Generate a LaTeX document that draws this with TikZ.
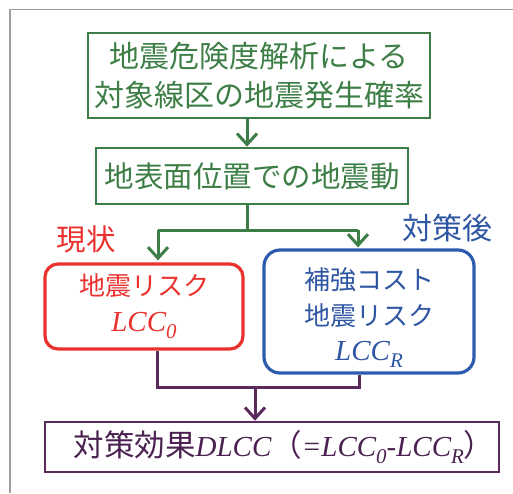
\documentclass[tikz,border=0pt]{standalone}
\usepackage{fontspec}
\setmainfont{Liberation Serif}
\newfontfamily\jp{Noto Sans CJK JP}
\newfontfamily\tnr{Liberation Serif}
\usetikzlibrary{arrows.meta}
\definecolor{cgreen}{HTML}{3D7E46}
\definecolor{cred}{HTML}{EA312D}
\definecolor{cblue}{HTML}{2D5CAE}
\definecolor{cbluetext}{HTML}{2F56A3}
\definecolor{cpurple}{HTML}{5A2A5C}
\definecolor{cpurpletext}{HTML}{4A2150}
\definecolor{cframe}{HTML}{9E9E9E}
\newcommand{\lcc}[1]{{\tnr\itshape LCC\raisebox{-0.23em}{\scalebox{0.72}{#1}}}}
\begin{document}
\begin{tikzpicture}[x=1pt,y=-1pt,
  gbox/.style={draw=cgreen, line width=2.6pt, text=cgreen, inner sep=0pt, align=center},
  rbox/.style={draw=cred, line width=3.2pt, rounded corners=13pt, text=cred, inner sep=0pt, align=center},
  bbox/.style={draw=cblue, line width=3.2pt, rounded corners=16pt, text=cbluetext, inner sep=0pt, align=center},
  pbox/.style={draw=cpurple, line width=2.6pt, text=cpurpletext, inner sep=0pt, align=center},
  garr/.style={draw=cgreen, line width=3pt, -{Straight Barb[length=11pt,width=20pt]}},
  gline/.style={draw=cgreen, line width=3pt},
  parr/.style={draw=cpurple, line width=3pt, -{Straight Barb[length=11pt,width=20pt]}},
  pline/.style={draw=cpurple, line width=3pt},
  lbl/.style={inner sep=0pt}
]
\useasboundingbox (0,0) rectangle (513,493);
\draw[cframe, line width=1.6pt] (513,9.3) -- (10,9.3) -- (10,493);

\node[gbox, minimum width=342pt, minimum height=85pt, font=\jp\fontsize{30}{39}\selectfont] (b1) at (259,75.5)
  {地震危険度解析による\\ 対象線区の地震発生確率};
\node[gbox, minimum width=312pt, minimum height=56pt, font=\jp\fontsize{29.5}{34}\selectfont] (b2) at (252,176)
  {地表面位置での地震動};

\node[rbox, minimum width=198pt, minimum height=85pt, font=\jp\fontsize{26}{36}\selectfont] (r) at (144,306.5)
  {地震リスク\\ {\fontsize{29}{30}\selectfont\lcc{0}}};
\node[bbox, minimum width=210pt, minimum height=123pt, font=\jp\fontsize{26}{35.5}\selectfont] (bl) at (369,311.5)
  {\rule{0pt}{34pt}補強コスト\\ 地震リスク\\ {\fontsize{29}{30}\selectfont\lcc{R}}};

\node[pbox, minimum width=454pt, minimum height=50pt, font=\jp\fontsize{30.5}{32}\selectfont] (p) at (272,447)
  {\hspace*{24pt}対策効果{\fontsize{29}{32}\selectfont\tnr\itshape DLCC}（{\fontsize{29}{32}\selectfont\tnr\itshape =\lcc{0}-\lcc{R}}）};

\node[lbl, text=cred, font=\jp\fontsize{29.5}{30}\selectfont] (l1) at (86,239) {現状};
\node[lbl, text=cbluetext, font=\jp\fontsize{30}{30}\selectfont] (l2) at (447,228) {対策後};

\coordinate (mx) at (247,0);
\coordinate (lx) at (158,0);
\coordinate (rx) at (358,0);
\coordinate (sy) at (0,230);
\coordinate (py) at (0,387);
\coordinate (plx) at (157,0);
\coordinate (prx) at (359,0);
\coordinate (pmx) at (255,0);

\draw[garr] (mx |- b1.south) -- (mx |- b2.north);
\draw[gline] (mx |- b2.south) -- (mx |- sy);
\draw[gline] (lx |- sy) -- (rx |- sy);
\draw[garr] (lx |- sy) -- ([yshift=2pt]lx |- r.north);
\draw[garr] (rx |- sy) -- ([yshift=1pt]rx |- bl.north);

\draw[pline] (plx |- r.south) -- (plx |- py) -- (prx |- py) -- (prx |- bl.south);
\draw[parr] (pmx |- py) -- (pmx |- p.north);
\end{tikzpicture}
\end{document}
